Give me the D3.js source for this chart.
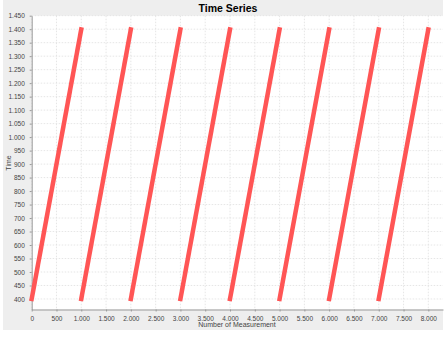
<!DOCTYPE html>
<html><head><meta charset="utf-8">
<script src="https://cdn.jsdelivr.net/npm/d3@7"></script>
<style>body{margin:0;background:#fff}svg{display:block}text{font-family:"Liberation Sans",Arial,sans-serif}</style>
</head><body>
<svg id="c" width="447" height="343"></svg>
<script>
// Data: each sawtooth segment
const segStartX = [0, 1000, 2000, 3000, 4000, 5000, 6000, 7000];
const segEndX   = [999, 1999, 2999, 3999, 4999, 5999, 6999, 7999];
const segStartY = [400, 400, 400, 400, 400, 400, 400, 400];
const segEndY   = [1399, 1399, 1399, 1399, 1399, 1399, 1399, 1399];
const xTicks = [0,500,1000,1500,2000,2500,3000,3500,4000,4500,5000,5500,6000,6500,7000,7500,8000];
const yTicks = [400,450,500,550,600,650,700,750,800,850,900,950,1000,1050,1100,1150,1200,1250,1300,1350,1400,1450];
const title = "Time Series", xLabel = "Number of Measurement", yLabel = "Time";

const svg = d3.select("#c");
const L = 31.7, R = 443, T = 15.7, B = 309.5;
const x = d3.scaleLinear().domain([0, 8296]).range([L, R]);
const y = d3.scaleLinear().domain([361, 1450]).range([B, T]);
const fmt = v => d3.format(",")(v).replace(/,/g, ".");
const FF = "'Liberation Sans',Arial,sans-serif";

svg.append("rect").attr("x",3).attr("y",0).attr("width",440).attr("height",330).attr("fill","#eeeeee");
svg.append("rect").attr("x",L).attr("y",T).attr("width",R-L).attr("height",B-T).attr("fill","#ffffff");

const g = svg.append("g");
g.selectAll(".gx").data(xTicks).join("line")
  .attr("x1",d=>x(d)).attr("x2",d=>x(d)).attr("y1",T).attr("y2",B)
  .attr("stroke","#e0e0e0").attr("stroke-width",0.8).attr("stroke-dasharray","1.5,1.5");
g.selectAll(".gy").data(yTicks).join("line")
  .attr("y1",d=>y(d)).attr("y2",d=>y(d)).attr("x1",L).attr("x2",R)
  .attr("stroke","#e0e0e0").attr("stroke-width",0.8).attr("stroke-dasharray","1.5,1.5");

const xAxis = d3.axisBottom(x).tickValues(xTicks).tickFormat(fmt).tickSize(2).tickSizeOuter(0);
const yAxis = d3.axisLeft(y).tickValues(yTicks).tickFormat(fmt).tickSize(2).tickSizeOuter(0);
const ax = svg.append("g").attr("transform",`translate(0,${B})`).call(xAxis);
const ay = svg.append("g").attr("transform",`translate(${L},0)`).call(yAxis);
[ax, ay].forEach(a => {
  a.select(".domain").attr("stroke","#999");
  a.selectAll(".tick line").attr("stroke","#999");
  a.selectAll(".tick text").attr("fill","#444").style("font-size","6.5px").style("font-family",FF);
});
ax.selectAll(".tick text").attr("dy","0.95em");
ay.selectAll(".tick text").attr("dx","-0.3em");

const segs = segStartX.map((s,i)=>({x0:s,x1:segEndX[i],y0:segStartY[i],y1:segEndY[i]}));
svg.append("g").selectAll("line").data(segs).join("line")
  .attr("x1",d=>x(d.x0)).attr("y1",d=>y(d.y0)).attr("x2",d=>x(d.x1)).attr("y2",d=>y(d.y1))
  .attr("stroke","#ff5555").attr("stroke-width",4.5).attr("stroke-linecap","square");

svg.append("text").attr("x",228).attr("y",12).attr("text-anchor","middle")
  .style("font-size","10.5px").style("font-weight","bold").attr("fill","#000").text(title);
svg.append("text").attr("x",237).attr("y",327).attr("text-anchor","middle")
  .style("font-size","7px").attr("fill","#444").text(xLabel);
svg.append("text").attr("transform","translate(11,163) rotate(-90)").attr("text-anchor","middle")
  .style("font-size","7px").attr("fill","#444").text(yLabel);
</script>
</body></html>
